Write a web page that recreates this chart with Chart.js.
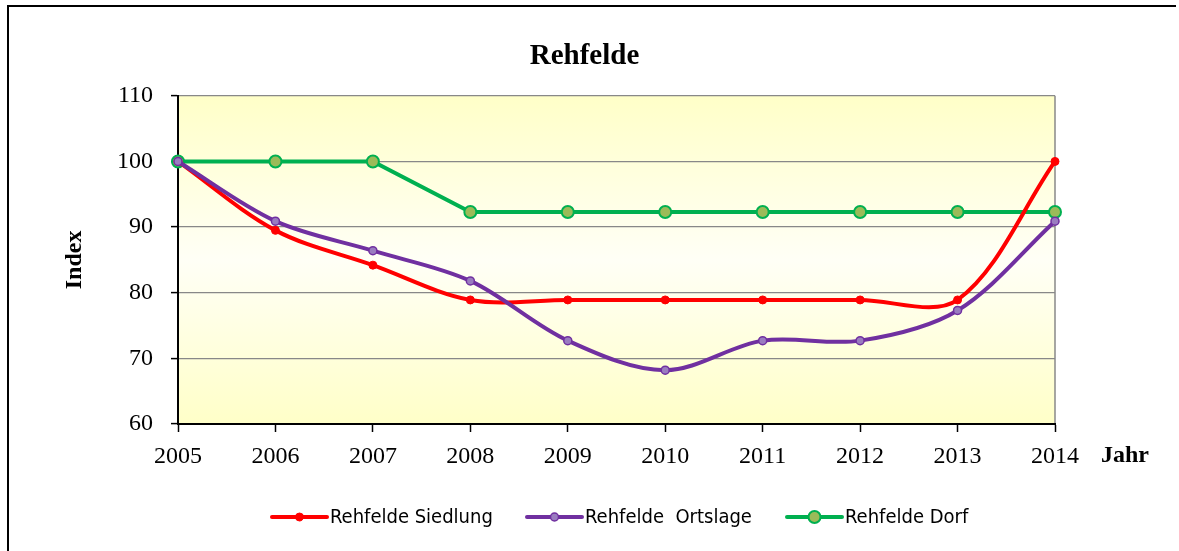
<!DOCTYPE html>
<html>
<head>
<meta charset="utf-8">
<script src="https://cdn.jsdelivr.net/npm/chart.js@4"></script>
<style>
  html, body { margin: 0; padding: 0; background: #fff; }
  #wrap { position: relative; width: 1179px; height: 551px; }
</style>
</head>
<body>
<div id="wrap"><canvas id="myChart" width="1179" height="551"></canvas></div>
<script>
// data
const years = ['2005', '2006', '2007', '2008', '2009', '2010', '2011', '2012', '2013', '2014'];
const siedlung = [100, 89.5, 84.2, 78.9, 78.9, 78.9, 78.9, 78.9, 78.9, 100];
const ortslage = [100, 90.9, 86.4, 81.8, 72.7, 68.2, 72.7, 72.7, 77.3, 90.9];
const dorf = [100, 100, 100, 92.3, 92.3, 92.3, 92.3, 92.3, 92.3, 92.3];
const yTicks = [60, 70, 80, 90, 100, 110];
const seriesNames = ['Rehfelde Siedlung', 'Rehfelde  Ortslage', 'Rehfelde Dorf'];

const serif = "'Liberation Serif', 'Times New Roman', serif";

// background, frame, "Jahr" label and legend
const extras = {
    id: 'extras',
    beforeDraw(chart) {
        const c = chart.ctx, a = chart.chartArea;
        c.save();
        const g = c.createLinearGradient(0, a.top, 0, a.bottom);
        g.addColorStop(0, '#FFFFC8');
        g.addColorStop(0.5, '#FFFFF6');
        g.addColorStop(1, '#FFFFC8');
        c.fillStyle = g;
        c.fillRect(a.left, a.top, a.right - a.left, a.bottom - a.top);
        c.strokeStyle = '#888';
        c.lineWidth = 1.5;
        c.beginPath();
        c.moveTo(a.right, a.top);
        c.lineTo(a.right, a.bottom);
        c.stroke();
        // outer frame (left + top only)
        c.strokeStyle = '#000';
        c.lineWidth = 2;
        c.beginPath();
        c.moveTo(8, 551);
        c.lineTo(8, 6);
        c.lineTo(1176, 6);
        c.stroke();
        c.restore();
    },
    afterDraw(chart) {
        const c = chart.ctx;
        c.save();
        c.fillStyle = '#000';
        c.font = 'bold 24px ' + serif;
        c.textAlign = 'center';
        c.textBaseline = 'middle';
        c.fillText('Jahr', 1125, 456);

        // legend
        const starts = [272, 527, 787];
        const y = 517;
        c.font = "20px 'Liberation Sans Narrow', 'Arial Narrow', 'DejaVu Sans Condensed', sans-serif";
        c.textAlign = 'left';
        chart.data.datasets.forEach(function (ds, i) {
            const x0 = starts[i], x1 = x0 + 55;
            c.strokeStyle = ds.borderColor;
            c.lineWidth = 4;
            c.lineCap = 'round';
            c.beginPath();
            c.moveTo(x0, y);
            c.lineTo(x1, y);
            c.stroke();
            c.beginPath();
            c.arc((x0 + x1) / 2, y, ds.pointRadius, 0, Math.PI * 2);
            c.fillStyle = ds.pointBackgroundColor;
            c.fill();
            c.lineWidth = ds.pointBorderWidth;
            c.strokeStyle = ds.pointBorderColor;
            c.stroke();
            c.fillStyle = '#000';
            c.fillText(ds.label, x1 + 3, y + 1);
        });
        c.restore();
    }
};

const ctx = document.getElementById('myChart').getContext('2d');
const myChart = new Chart(ctx, {
    type: 'line',
    data: {
        labels: years,
        datasets: [{
            label: seriesNames[0],
            data: siedlung,
            borderColor: '#FF0000',
            borderWidth: 4,
            tension: 0.33,
            pointRadius: 4,
            pointBackgroundColor: '#FF0000',
            pointBorderColor: '#FF0000',
            pointBorderWidth: 1,
            order: 1
        }, {
            label: seriesNames[1],
            data: ortslage,
            borderColor: '#7030A0',
            borderWidth: 4,
            tension: 0.33,
            pointRadius: 4,
            pointBackgroundColor: '#9A7CC0',
            pointBorderColor: '#7030A0',
            pointBorderWidth: 1.5,
            order: 0
        }, {
            label: seriesNames[2],
            data: dorf,
            borderColor: '#00B050',
            borderWidth: 4,
            tension: 0,
            pointRadius: 6,
            pointBackgroundColor: '#9BBB59',
            pointBorderColor: '#00B050',
            pointBorderWidth: 2,
            order: 2
        }]
    },
    options: {
        responsive: false,
        animation: false,
        layout: { padding: { left: 0, right: 10, top: 0, bottom: 0 } },
        plugins: {
            legend: { display: false },
            tooltip: { enabled: false },
            title: {
                display: true,
                text: 'Rehfelde',
                color: '#000',
                font: { family: serif, size: 29, weight: 'bold', lineHeight: 1.2 },
                padding: { top: 39, bottom: 22 }
            }
        },
        scales: {
            x: {
                type: 'category',
                offset: false,
                border: { color: '#000', width: 2 },
                grid: { drawOnChartArea: false, tickLength: 8, tickColor: '#000', tickWidth: 1.5 },
                ticks: { color: '#000', padding: 10, maxRotation: 0, autoSkip: false, font: { family: serif, size: 24 } },
                afterFit(scale) { scale.height = 127; scale.paddingRight = 124; }
            },
            y: {
                min: 60,
                max: 110,
                afterBuildTicks(scale) { scale.ticks = yTicks.map(v => ({ value: v })); },
                border: { color: '#000', width: 2 },
                grid: { color: '#888', lineWidth: 1.2, tickLength: 7, tickColor: '#000', tickWidth: 1.5 },
                ticks: { color: '#000', padding: 18, font: { family: serif, size: 24 } },
                title: {
                    display: true,
                    text: 'Index',
                    color: '#000',
                    font: { family: serif, size: 24, weight: 'bold' },
                    padding: { top: 60, bottom: 0 }
                },
                afterFit(scale) { scale.width = 178; }
            }
        }
    },
    plugins: [extras]
});
</script>
</body>
</html>
